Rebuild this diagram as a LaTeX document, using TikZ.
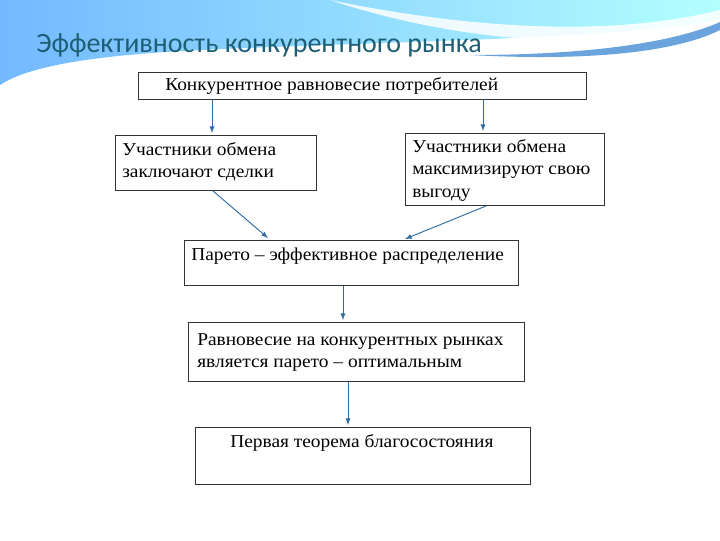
\documentclass[tikz,border=0pt]{standalone}
\usepackage{fontspec}
\setmainfont{Liberation Serif}[FakeStretch=1.07]
\newfontfamily\titlefont{Carlito}
\definecolor{arrc}{HTML}{2E6DA4}
\definecolor{titc}{HTML}{1F5F75}
\begin{document}
\begin{tikzpicture}[x=0.75pt,y=-0.75pt,
  box/.style={draw=black!80,line width=0.8pt},
  txt/.style={anchor=north west,align=left,inner sep=0pt,font=\fontsize{13.6}{16.8}\selectfont},
  arr/.style={draw=arrc,line width=0.7pt,-latex}]
\useasboundingbox (0,0) rectangle (720,540);
\fill[white] (0,0) rectangle (720,540);
% background decoration
\shade[left color=cyan!50!blue!55,right color=cyan!30] (0,0) -- (720,0) -- (720,20) .. controls (600,40) and (420,40) .. (200,50) .. controls (100,55) and (30,65) .. (0,85) -- cycle;
\fill[white,opacity=0.85] (330,0) .. controls (450,25) and (600,40) .. (720,10) -- (720,25) .. controls (600,55) and (450,40) .. (330,0) -- cycle;
\fill[cyan!60!blue!60] (470,55) .. controls (600,55) and (680,40) .. (720,22) -- (720,30) .. controls (680,50) and (600,62) .. (470,55) -- cycle;
\node[anchor=west,inner sep=0pt,text=titc,font=\titlefont\fontsize{21}{24}\selectfont] (title) at (36,45) {Эффективность конкурентного рынка};
% boxes
\node[box,minimum width=448*0.75pt,minimum height=27*0.75pt,anchor=north west] (b1) at (138,72) {};
\node[txt,anchor=west] (t1) at (165,85.5) {Конкурентное равновесие потребителей};
\node[box,minimum width=201*0.75pt,minimum height=55*0.75pt,anchor=north west] (b2) at (115,135) {};
\node[txt] (t2) at (122,142) {Участники обмена\\заключают сделки};
\node[box,minimum width=199*0.75pt,minimum height=72*0.75pt,anchor=north west] (b3) at (405,133) {};
\node[txt] (t3) at (412,139) {Участники обмена\\максимизируют свою\\выгоду};
\node[box,minimum width=334*0.75pt,minimum height=45*0.75pt,anchor=north west] (b4) at (184,240) {};
\node[txt] (t4) at (191,248) {Парето – эффективное распределение};
\node[box,minimum width=336*0.75pt,minimum height=59*0.75pt,anchor=north west] (b5) at (188,322) {};
\node[txt] (t5) at (197,333) {Равновесие на конкурентных рынках\\является парето – оптимальным};
\node[box,minimum width=335*0.75pt,minimum height=57*0.75pt,anchor=north west] (b6) at (195,427) {};
\node[txt] (t6) at (230,434) {Первая теорема благосостояния};
% arrows
\coordinate (a1s) at (212,99); \coordinate (a1e) at (212,133);
\coordinate (a2s) at (483,99); \coordinate (a2e) at (483,131);
\coordinate (a3s) at (213,191); \coordinate (a3e) at (268,238);
\coordinate (a4s) at (486,206); \coordinate (a4e) at (405,239);
\coordinate (a5s) at (343,286); \coordinate (a5e) at (343,320);
\coordinate (a6s) at (348,382); \coordinate (a6e) at (348,425);
\draw[arr] (a1s) -- (a1e);
\draw[arr] (a2s) -- (a2e);
\draw[arr] (a3s) -- (a3e);
\draw[arr] (a4s) -- (a4e);
\draw[arr] (a5s) -- (a5e);
\draw[arr] (a6s) -- (a6e);
\end{tikzpicture}
\end{document}
